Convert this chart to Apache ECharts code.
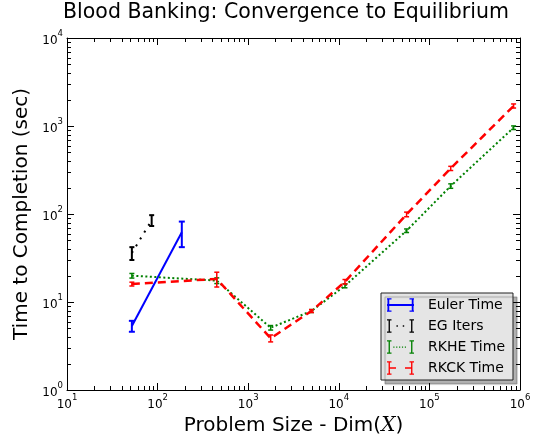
<!DOCTYPE html>
<html>
<head>
<meta charset="utf-8">
<script src="https://cdn.jsdelivr.net/npm/echarts@6/dist/echarts.min.js"></script>
<style>html,body{margin:0;padding:0;background:#fff}#c{width:544px;height:441px}</style>
</head>
<body>
<div id="c"></div>
<script>
// ---- data ----
const eulerX = [52, 185];
const eulerY = [5.35, 62];
const eulerErr = [0.76, 20];

const egX = [52, 86];
const egY = [36, 85];
const egErr = [6, 12];

const rkheX = [52, 450, 1770, 5000, 11700, 56000, 172000, 850000];
const rkheY = [19.9, 17.5, 5.1, 7.9, 15.3, 64.6, 208, 957];
const rkheErr = [1.2, 1.3, 0.3, 0.3, 0.8, 3, 12, 45];

const rkckX = [52, 450, 1770, 5000, 11700, 56000, 172000, 850000];
const rkckY = [16.0, 18.3, 3.87, 7.9, 17.0, 99, 330, 1690];
const rkckErr = [0.8, 3.5, 0.35, 0.3, 1.0, 6, 18, 90];

const seriesNames = ['Euler Time', 'EG Iters', 'RKHE Time', 'RKCK Time'];
const xTickLabels = ['10^1', '10^2', '10^3', '10^4', '10^5', '10^6'];
const yTickLabels = ['10^0', '10^1', '10^2', '10^3', '10^4'];
const minorMultipliers = [2, 3, 4, 5, 6, 7, 8, 9];
const xDecades = [10, 100, 1000, 10000, 100000];
const yDecades = [1, 10, 100, 1000];

// ---- helpers ----
const FONT = 'DejaVu Sans';
function zip(xs, ys) { return xs.map((x, i) => [x, ys[i]]); }
function zip3(xs, ys, es) { return xs.map((x, i) => [x, ys[i], es[i]]); }
function supLabel(v) {
  const e = Math.round(Math.log10(v));
  return '{b|10}{s|' + e + '}';
}
const supRich = {
  b: { fontSize: 12, fontFamily: FONT, color: '#000', lineHeight: 18, verticalAlign: 'bottom' },
  s: { fontSize: 8.5, fontFamily: FONT, color: '#000', verticalAlign: 'top', lineHeight: 10 }
};

function errorBarSeries(name, data, color, lw, cap, z) {
  return {
    type: 'custom', name: name + ' err', data: data, z: z, clip: false,
    renderItem: function (params, api) {
      const x = api.value(0), y = api.value(1), e = api.value(2);
      const hi = api.coord([x, y + e]);
      const lo = api.coord([x, y - e]);
      const st = { stroke: color, lineWidth: lw };
      return {
        type: 'group', children: [
          { type: 'line', shape: { x1: hi[0], y1: hi[1], x2: lo[0], y2: lo[1] }, style: st },
          { type: 'line', shape: { x1: hi[0] - cap, y1: hi[1], x2: hi[0] + cap, y2: hi[1] }, style: st },
          { type: 'line', shape: { x1: lo[0] - cap, y1: lo[1], x2: lo[0] + cap, y2: lo[1] }, style: st }
        ]
      };
    }
  };
}

const xMinor = [];
xDecades.forEach(d => minorMultipliers.forEach(m => xMinor.push([d * m, 1])));
const yMinor = [];
yDecades.forEach(d => minorMultipliers.forEach(m => yMinor.push([10, d * m])));

function minorTickSeries(data, isX) {
  return {
    type: 'custom', name: isX ? 'xminor' : 'yminor', data: data, silent: true, z: 1, clip: false,
    renderItem: function (params, api) {
      const cs = params.coordSys;
      const p = api.coord([api.value(0), api.value(1)]);
      const L = 4;
      const st = { stroke: '#000', lineWidth: 1 };
      let c;
      if (isX) {
        const x = Math.round(p[0]) + 0.5;
        c = [
          { type: 'line', shape: { x1: x, y1: cs.y + cs.height, x2: x, y2: cs.y + cs.height - L }, style: st },
          { type: 'line', shape: { x1: x, y1: cs.y, x2: x, y2: cs.y + L }, style: st }
        ];
      } else {
        const y = Math.round(p[1]) + 0.5;
        c = [
          { type: 'line', shape: { x1: cs.x, y1: y, x2: cs.x + L, y2: y }, style: st },
          { type: 'line', shape: { x1: cs.x + cs.width, y1: y, x2: cs.x + cs.width - L, y2: y }, style: st }
        ];
      }
      return { type: 'group', children: c };
    }
  };
}

const axisCommon = {
  type: 'log', logBase: 10,
  axisLine: { show: true, lineStyle: { color: '#000', width: 1 } },
  axisTick: { show: true, inside: true, length: 7, lineStyle: { color: '#000', width: 1 } },
  splitLine: { show: false },
  minorTick: { show: false }
};

const iconI = (x) => `M${x},0h5v1.5h-5z M${x},13.5h5v1.5h-5z M${x + 1.75},0h1.5v15h-1.5z `;
const icons = {
  'Euler Time': 'path://M0,0h5v1.5h-5z M0,13.5h5v1.5h-5z M0.5,0h2v15h-2z M25,0h5v1.5h-5z M25,13.5h5v1.5h-5z M27.5,0h2v15h-2z M0,6.5h30v2h-30z',
  'EG Iters': 'path://' + iconI(0) + iconI(25) + 'M10.5,6.75h1.6v1.6h-1.6z M17.5,6.75h1.6v1.6h-1.6z',
  'RKHE Time': 'path://' + iconI(0) + iconI(25) + 'M7,6.9h1.3v1.3h-1.3z M10.2,6.9h1.3v1.3h-1.3z M13.4,6.9h1.3v1.3h-1.3z M16.6,6.9h1.3v1.3h-1.3z M19.8,6.9h1.3v1.3h-1.3z',
  'RKCK Time': 'path://' + iconI(0) + iconI(25) + 'M3,6.6h7v1.8h-7z M20,6.6h7v1.8h-7z'
};

const option = {
  animation: false,
  backgroundColor: '#ffffff',
  title: {
    text: 'Blood Banking: Convergence to Equilibrium',
    left: 286, top: 2, textAlign: 'center', padding: 0,
    textStyle: { fontSize: 20.5, fontWeight: 'normal', fontFamily: FONT, color: '#000' }
  },
  grid: { left: 67, right: 24, top: 38, bottom: 51, containLabel: false },
  xAxis: [
    Object.assign({}, axisCommon, {
      position: 'bottom', min: 10, max: 1e6,
      name: '{n|Problem Size - Dim(}{i|X}{n|)}', nameLocation: 'middle', nameGap: 16,
      nameTextStyle: {
        rich: {
          n: { fontSize: 20, fontFamily: FONT, color: '#000' },
          i: { fontSize: 20, fontFamily: 'DejaVu Serif', fontStyle: 'italic', color: '#000' }
        }
      },
      axisLabel: { show: true, margin: 3, formatter: supLabel, rich: supRich }
    }),
    Object.assign({}, axisCommon, {
      position: 'top', min: 10, max: 1e6, axisLabel: { show: false }
    })
  ],
  yAxis: [
    Object.assign({}, axisCommon, {
      position: 'left', min: 1, max: 1e4,
      name: 'Time to Completion (sec)', nameLocation: 'middle', nameGap: 29,
      nameTextStyle: { fontSize: 20, fontFamily: FONT, color: '#000' },
      axisLabel: { show: true, margin: 4, formatter: supLabel, rich: supRich }
    }),
    Object.assign({}, axisCommon, {
      position: 'right', min: 1, max: 1e4, axisLabel: { show: false }
    })
  ],
  legend: {
    orient: 'vertical', left: 381, top: 293,
    padding: [5, 8, 5, 6], itemGap: 7, itemWidth: 27, itemHeight: 14,
    backgroundColor: '#e5e5e5', borderColor: '#222', borderWidth: 1,
    shadowColor: 'rgba(0,0,0,0.3)', shadowBlur: 1, shadowOffsetX: 4, shadowOffsetY: 4,
    itemStyle: { borderWidth: 0 },
    textStyle: { fontSize: 14, fontFamily: FONT, color: '#000', padding: [0, 0, 0, 9] },
    data: seriesNames.map(n => ({ name: n, icon: icons[n] }))
  },
  series: [
    minorTickSeries(xMinor, true),
    minorTickSeries(yMinor, false),
    { type: 'line', name: 'Euler Time', data: zip(eulerX, eulerY), symbol: 'none', z: 3,
      itemStyle: { color: '#0000ff' }, lineStyle: { color: '#0000ff', width: 2 } },
    errorBarSeries('Euler Time', zip3(eulerX, eulerY, eulerErr), '#0000ff', 2, 3, 3),
    { type: 'line', name: 'EG Iters', data: zip(egX, egY), symbol: 'none', z: 4,
      itemStyle: { color: '#000000' }, lineStyle: { color: '#000000', width: 2, type: [2, 6] } },
    errorBarSeries('EG Iters', zip3(egX, egY, egErr), '#000000', 2, 2.5, 4),
    { type: 'line', name: 'RKHE Time', data: zip(rkheX, rkheY), symbol: 'none', z: 5,
      itemStyle: { color: '#008000' }, lineStyle: { color: '#008000', width: 2, type: [2, 2.5] } },
    errorBarSeries('RKHE Time', zip3(rkheX, rkheY, rkheErr), '#008000', 1.5, 2.5, 5),
    { type: 'line', name: 'RKCK Time', data: zip(rkckX, rkckY), symbol: 'none', z: 6,
      itemStyle: { color: '#ff0000' }, lineStyle: { color: '#ff0000', width: 2.5, type: [8, 5] } },
    errorBarSeries('RKCK Time', zip3(rkckX, rkckY, rkckErr), '#ff0000', 1.5, 2.5, 6)
  ]
};

const chart = echarts.init(document.getElementById('c'), null, { renderer: 'canvas' });
chart.setOption(option);
</script>
</body>
</html>
